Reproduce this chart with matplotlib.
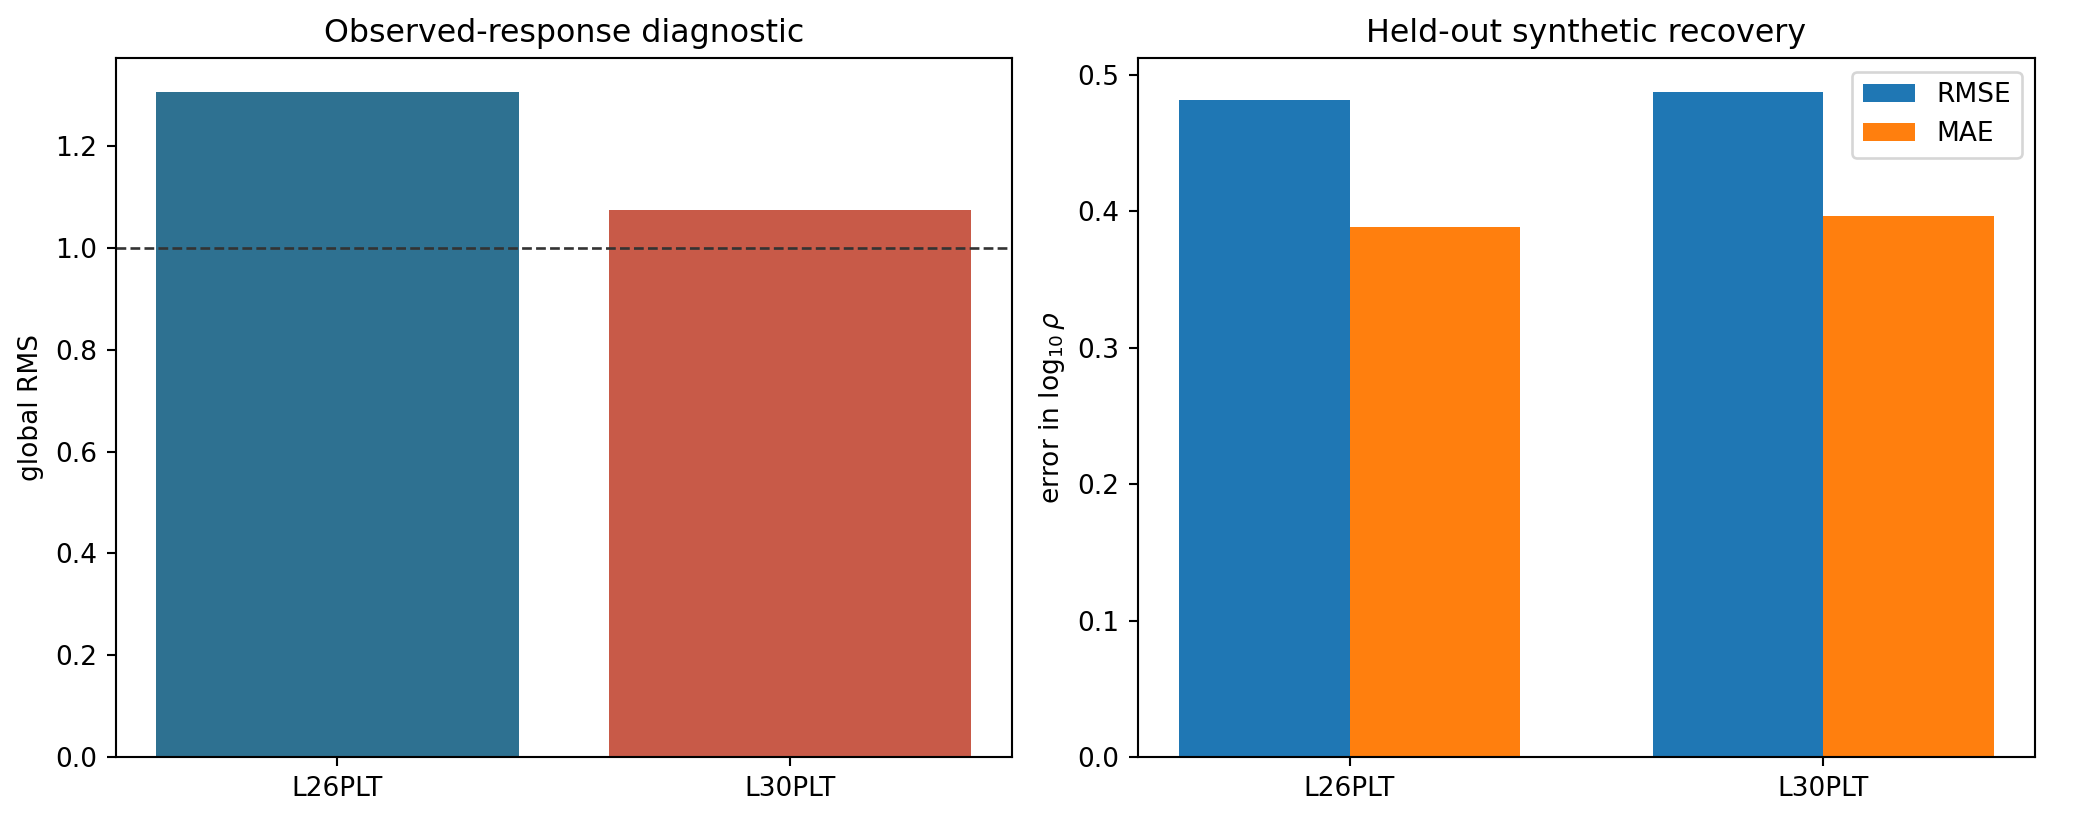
import matplotlib
matplotlib.use("Agg")
import matplotlib.pyplot as plt
import numpy as np

categories = ["L26PLT", "L30PLT"]
global_rms = [1.307, 1.075]
rmse = [0.4815, 0.4875]
mae = [0.3885, 0.3965]
left_colors = ["#2e7191", "#c85a48"]

DPI = 190
fig, (ax1, ax2) = plt.subplots(1, 2, figsize=(2074/DPI, 820/DPI), dpi=DPI)

x = np.arange(len(categories))
ax1.bar(x, global_rms, color=left_colors, width=0.8)
ax1.axhline(1.0, color="#333333", linestyle="--", linewidth=1)
ax1.set_xticks(x)
ax1.set_xticklabels(categories)
ax1.set_ylabel("global RMS")
ax1.set_title("Observed-response diagnostic")

w = 0.36
ax2.bar(x - w/2, rmse, width=w, label="RMSE", color="#1f77b4")
ax2.bar(x + w/2, mae, width=w, label="MAE", color="#ff7f0e")
ax2.set_xticks(x)
ax2.set_xticklabels(categories)
ax2.set_ylabel(r"error in $\log_{10}\rho$")
ax2.set_title("Held-out synthetic recovery")
ax2.legend(loc="upper right")

fig.tight_layout(pad=0.7, w_pad=0.95, rect=(0.0, 0, 0.99, 1))
fig.savefig("out.png", dpi=DPI)
